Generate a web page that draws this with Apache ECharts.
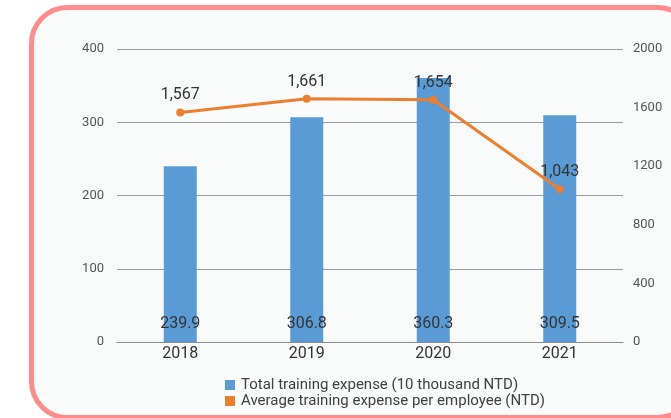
<!DOCTYPE html>
<html>
<head>
<meta charset="utf-8">
<script src="https://cdn.jsdelivr.net/npm/echarts@6/dist/echarts.min.js"></script>
<style>
  html, body { margin: 0; padding: 0; background: #ffffff; }
  #chart { width: 671px; height: 418px; }
</style>
</head>
<body>
<div id="chart"></div>
<script>
// Training expense by year
const years = ['2018', '2019', '2020', '2021'];
const totalExpense = [239.9, 306.8, 360.3, 309.5];      // 10 thousand NTD
const avgPerEmployee = [1567, 1661, 1654, 1043];        // NTD
const seriesNames = [
  'Total training expense (10 thousand NTD)',
  'Average training expense per employee (NTD)'
];

const fmtThousands = v => String(v).replace(/\B(?=(\d{3})+(?!\d))/g, ',');

const chart = echarts.init(document.getElementById('chart'), null, { renderer: 'canvas' });

chart.setOption({
  animation: false,
  textStyle: { fontFamily: 'Roboto, sans-serif' },
  graphic: [{
    type: 'rect',
    z: -10,
    silent: true,
    shape: { x: 31.5, y: 7.5, width: 662, height: 410, r: 36 },
    style: { fill: '#f9fafa', stroke: '#ff8c8c', lineWidth: 5 }
  }],
  grid: { left: 117, right: 48, top: 49, bottom: 76, containLabel: false },
  legend: {
    orient: 'vertical',
    left: 220,
    top: 372,
    itemGap: 0,
    itemWidth: 10,
    itemHeight: 10,
    icon: 'rect',
    textStyle: { fontSize: 15, lineHeight: 16, color: '#404040', fontFamily: 'Roboto, sans-serif', padding: [0, 0, 0, 1] },
    data: seriesNames
  },
  xAxis: {
    type: 'category',
    data: years,
    axisLine: { lineStyle: { color: '#8a8a8a', width: 1 } },
    axisTick: { show: false },
    axisLabel: { fontSize: 16, color: '#333333', margin: 4 }
  },
  yAxis: [{
    type: 'value',
    min: 0, max: 400, interval: 100,
    axisLine: { show: false },
    axisTick: { show: false },
    axisLabel: { fontSize: 13, color: '#555555', margin: 13 },
    splitLine: { lineStyle: { color: '#9a9a9a', width: 1 } }
  }, {
    type: 'value',
    min: 0, max: 2000, interval: 400,
    axisLine: { show: false },
    axisTick: { show: false },
    axisLabel: { fontSize: 13, color: '#555555', margin: 10, formatter: v => String(v) },
    splitLine: { show: false }
  }],
  series: [{
    name: seriesNames[0],
    type: 'bar',
    yAxisIndex: 0,
    data: totalExpense,
    barWidth: 33,
    itemStyle: { color: '#5b9bd5' },
    label: {
      show: true,
      position: 'insideBottom',
      distance: 10,
      fontSize: 16,
      color: '#333333'
    }
  }, {
    name: seriesNames[1],
    type: 'line',
    yAxisIndex: 1,
    data: avgPerEmployee,
    symbol: 'circle',
    symbolSize: 8,
    lineStyle: { color: '#ed7d31', width: 3 },
    itemStyle: { color: '#ed7d31' },
    z: 5,
    label: {
      show: true,
      position: 'top',
      distance: 5,
      fontSize: 16,
      color: '#333333',
      formatter: p => fmtThousands(p.value)
    }
  }]
});
</script>
</body>
</html>
